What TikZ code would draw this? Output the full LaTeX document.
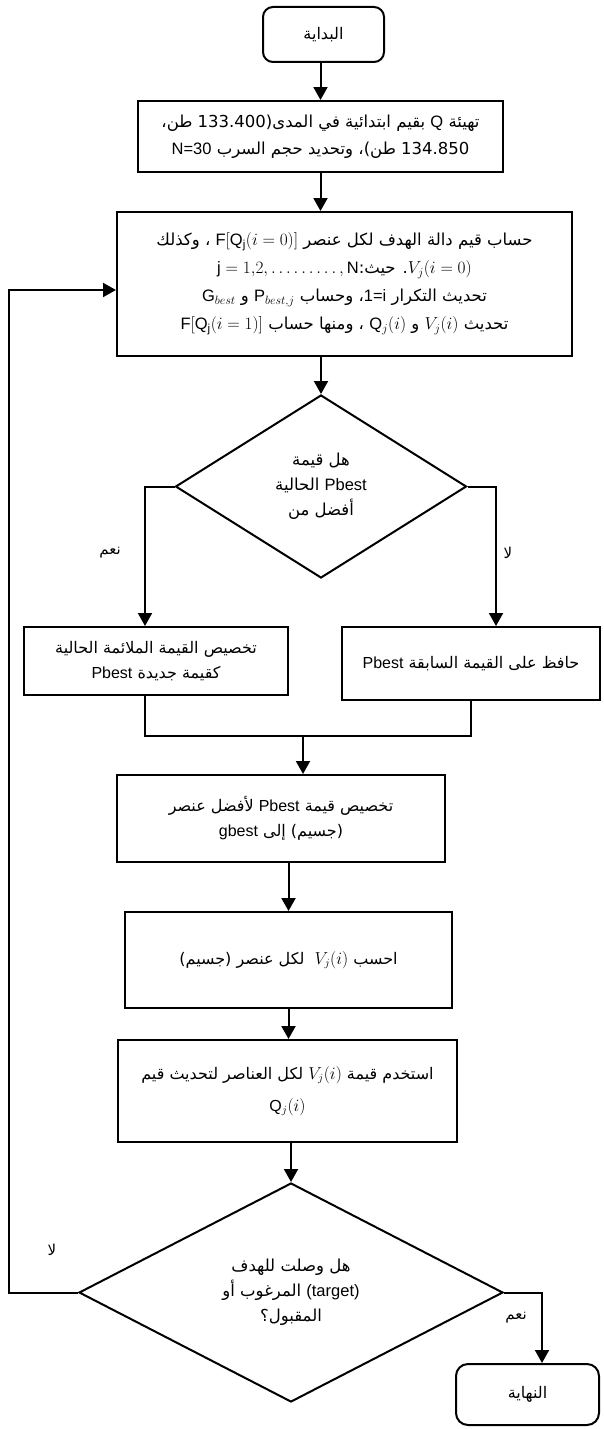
\documentclass[tikz,border=0pt]{standalone}
\usepackage{fontspec}
\setmainfont{Liberation Sans}
\newfontfamily\arabicfont[Script=Arabic]{DejaVu Sans}
\TeXXeTstate=1
\newcommand{\ar}[1]{{\arabicfont\beginR #1\endR}}
\newcommand{\lt}[1]{{\normalfont\beginL #1\endL}}
\usetikzlibrary{arrows.meta,shapes.geometric}

\begin{document}
\begin{tikzpicture}[x=1pt,y=1pt,line width=2pt,
    box/.style={draw,rectangle,align=center,inner sep=0pt,font=\fontsize{16}{25}\selectfont},
    term/.style={box,rounded corners=10pt},
    ask/.style={draw,diamond,align=center,inner sep=0pt,font=\fontsize{16.5}{25}\selectfont},
    arr/.style={-{Triangle[length=13pt,width=14pt]}},
    lbl/.style={font=\fontsize{15}{17}\selectfont}]

  \useasboundingbox (0,0) rectangle (604,-1429);

  \node[term,minimum width=121pt,minimum height=55pt](start) at (323.5,-34.5) {\ar{البداية}};
  \node[box,minimum width=365pt,minimum height=71pt,font=\fontsize{16.5}{27}\selectfont](init) at (320.5,-136.5)
    {\ar{تهيئة \lt{Q} بقيم ابتدائية في المدى(133.400 طن،}\\
     \ar{134.850 طن)، وتحديد حجم السرب \lt{N=30}}};
  \node[box,minimum width=455pt,minimum height=144pt,font=\fontsize{16.5}{28}\selectfont](calc) at (344.5,-284)
    {\ar{حساب قيم دالة الهدف لكل عنصر \lt{$\mathrm{F}\bigl[\mathrm{Q_j}(i=0)\bigr]$} ، وكذلك}\\
     \ar{\lt{$V_j(i=0)$}. حيث:\lt{$\mathrm{j}=1{,}2,\ldots\ldots\ldots,\mathrm{N}$}}\\
     \ar{تحديث التكرار \lt{1=i}، وحساب \lt{$\mathrm{P}_{best,j}$} و \lt{$\mathrm{G}_{best}$}}\\
     \ar{تحديث \lt{$V_j(i)$} و \lt{$\mathrm{Q}_j(i)$} ، ومنها حساب \lt{$\mathrm{F}\bigl[\mathrm{Q_j}(i=1)\bigr]$}}};

  \node[ask,minimum width=291pt,minimum height=183pt,aspect=2](dec1) at (321,-486.5)
    {\ar{هل قيمة}\\ \ar{\lt{Pbest} الحالية}\\ \ar{أفضل من}};
  \coordinate (yes) at (145,-486.5);
  \coordinate (no) at (496,-486.5);
  \node[lbl](yeslbl) at (110,-553) {\ar{نعم}};
  \node[lbl](nolbl) at (508,-553) {\ar{لا}};

  \node[box,minimum width=264pt,minimum height=68pt](keep) at (156,-661)
    {\ar{تخصيص القيمة الملائمة الحالية}\\ \ar{كقيمة جديدة \lt{Pbest}}};
  \node[box,minimum width=258pt,minimum height=73pt](old) at (471,-663.5)
    {\ar{حافظ على القيمة السابقة \lt{Pbest}}};
  \coordinate (join) at (303,-736);

  \node[box,minimum width=328pt,minimum height=87pt](gbest) at (281,-818.5)
    {\ar{تخصيص قيمة \lt{Pbest} لأفضل عنصر}\\ \ar{(جسيم) إلى \lt{gbest}}};
  \node[box,minimum width=327pt,minimum height=96pt](vel) at (288.5,-960)
    {\ar{احسب \lt{$V_j(i)$}\ \ لكل عنصر (جسيم)}};
  \node[box,minimum width=339pt,minimum height=102pt,font=\fontsize{16}{32}\selectfont](pos) at (287.5,-1091)
    {\ar{استخدم قيمة \lt{$V_j(i)$} لكل العناصر لتحديث قيم}\\ \lt{$\mathrm{Q}_j(i)$}};

  \node[ask,minimum width=424pt,minimum height=219pt,aspect=2.2](dec2) at (291,-1292.5)
    {\ar{هل وصلت للهدف}\\ \ar{\lt{(target)} المرغوب أو}\\ \ar{المقبول؟}};
  \coordinate (loop) at (9,-1292.5);
  \coordinate (done) at (542,-1292.5);
  \node[lbl](nolbl2) at (52,-1250) {\ar{لا}};
  \node[lbl](yeslbl2) at (516,-1318) {\ar{نعم}};
  \node[term,minimum width=143pt,minimum height=61pt,rounded corners=12pt](finish) at (527.5,-1394.5) {\ar{النهاية}};

  \draw[arr] (start.south -| init.north) -- (init.north);
  \draw[arr] (init.south) -- (init.south |- calc.north);
  \draw[arr] (dec1.north |- calc.south) -- (dec1.north);
  \draw[arr] (dec1.west) -- (yes) -- (yes |- keep.north);
  \draw[arr] (dec1.east) -- (no) -- (no |- old.north);
  \draw (yes |- keep.south) |- (join) -| (old.south);
  \draw[arr] (join) -- (join |- gbest.north);
  \draw[arr] (vel.north |- gbest.south) -- (vel.north);
  \draw[arr] (vel.south) -- (vel.south |- pos.north);
  \draw[arr] (dec2.north |- pos.south) -- (dec2.north);
  \draw[arr] (dec2.west) -- (loop) |- ([yshift=-6pt]calc.west);
  \draw[arr] (dec2.east) -- (done) -- (done |- finish.north);
\end{tikzpicture}
\end{document}
